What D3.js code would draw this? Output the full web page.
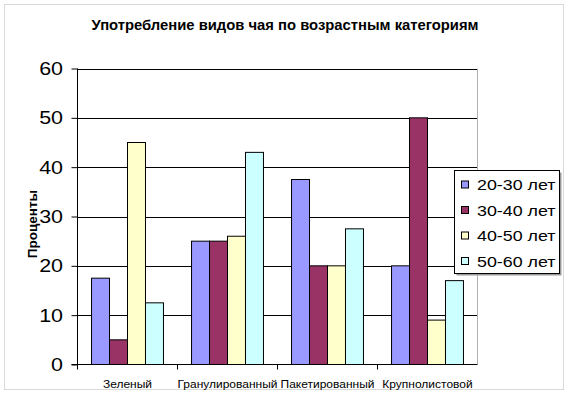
<!DOCTYPE html>
<html>
<head>
<meta charset="utf-8">
<script src="https://cdn.jsdelivr.net/npm/d3@7/dist/d3.min.js"></script>
<style>
  body { margin: 0; background: #fff; }
  svg { display: block; font-family: "Liberation Sans", Arial, sans-serif; }
</style>
</head>
<body>
<div id="chart"></div>
<script>
// chart data
let categories = ['Зеленый', 'Гранулированный', 'Пакетированный', 'Крупнолистовой']
let seriesNames = ['20-30 лет', '30-40 лет', '40-50 лет', '50-60 лет']
let seriesColors = ['#9999ff', '#993366', '#ffffcc', '#ccffff']
let v2030 = [17.5, 25, 37.5, 20]
let v3040 = [5, 25, 20, 50]
let v4050 = [45, 26, 20, 9]
let v5060 = [12.5, 43, 27.5, 17]
let yTicks = [0, 10, 20, 30, 40, 50, 60]
let seriesValues = [v2030, v3040, v4050, v5060]

let W = 570, H = 397
// plot area edges
let pLeft = 77.5, pRight = 477.5, pTop = 68.5, pBottom = 364.5
// the source picture is a bit stretched sideways
let sxTick = 1.13, sxCat = 1.2, sxLeg = 1.19

let svg = d3.select('#chart')
  .append('svg')
  .attr('width', W)
  .attr('height', H)

// outer chart frame
svg.append('rect')
  .attr('x', 4.5).attr('y', 4.5)
  .attr('width', 559).attr('height', 385)
  .attr('fill', '#fff')
  .attr('stroke', '#d9d9d9')

svg.append('text')
  .attr('x', 285).attr('y', 30)
  .attr('text-anchor', 'middle')
  .attr('font-weight', 'bold')
  .attr('font-size', 14.8)
  .text('Употребление видов чая по возрастным категориям')

let y = d3.scaleLinear().domain([0, 60]).range([pBottom, pTop])
let x0 = d3.scaleBand().domain(categories).range([pLeft, pRight])
let x1 = d3.scaleBand().domain(seriesNames).range([0, x0.bandwidth()]).paddingOuter(0.78)

// gridlines
svg.append('g')
  .selectAll('line')
  .data(yTicks.filter(d => d > 0))
  .join('line')
  .attr('x1', pLeft).attr('x2', pRight)
  .attr('y1', d => Math.round(y(d)) + 0.5)
  .attr('y2', d => Math.round(y(d)) + 0.5)
  .attr('stroke', '#000')

// plot area right edge
svg.append('line')
  .attr('x1', pRight).attr('x2', pRight)
  .attr('y1', pTop).attr('y2', pBottom)
  .attr('stroke', '#b0b0b0')

// bars
let groups = svg.append('g')
  .selectAll('g')
  .data(categories)
  .join('g')
  .attr('transform', d => 'translate(' + x0(d) + ',0)')

groups.selectAll('rect')
  .data((c, i) => seriesNames.map((s, j) => ({ s: s, v: seriesValues[j][i], c: seriesColors[j] })))
  .join('rect')
  .attr('x', d => x1(d.s))
  .attr('y', d => y(d.v))
  .attr('width', x1.bandwidth())
  .attr('height', d => y(0) - y(d.v))
  .attr('fill', d => d.c)
  .attr('stroke', '#000')
  .attr('stroke-width', 1)

// y axis
let yAxis = d3.axisLeft(y).tickValues(yTicks).tickSize(6).tickPadding(9)
let gy = svg.append('g')
  .attr('transform', 'translate(' + pLeft + ',0)')
  .call(yAxis)
gy.select('.domain').attr('stroke', '#000').attr('d', 'M0,' + pTop + 'V' + pBottom)
gy.selectAll('.tick line').attr('stroke', '#000')
gy.selectAll('.tick text')
  .attr('font-size', 19)
  .attr('font-family', '"Liberation Sans", Arial, sans-serif')
  .attr('fill', '#000')
  .attr('x', -14.5 / sxTick)
  .attr('transform', 'scale(' + sxTick + ',1)')

// x axis
let xAxis = d3.axisBottom(x0).tickSize(0).tickPadding(16)
let gx = svg.append('g')
  .attr('transform', 'translate(0,' + pBottom + ')')
  .call(xAxis)
gx.select('.domain').attr('stroke', '#000').attr('d', 'M' + (pLeft - 6) + ',0H' + pRight)
gx.selectAll('.tick text')
  .attr('font-size', 10)
  .attr('font-family', '"Liberation Sans", Arial, sans-serif')
  .attr('fill', '#000')
  .attr('transform', 'scale(' + sxCat + ',1)')
// category separators
gx.append('g')
  .selectAll('line')
  .data(categories)
  .join('line')
  .attr('x1', d => x0(d)).attr('x2', d => x0(d))
  .attr('y1', 0).attr('y2', 5)
  .attr('stroke', '#000')

// y title
svg.append('text')
  .attr('transform', 'translate(36.5,224) rotate(-90)')
  .attr('text-anchor', 'middle')
  .attr('font-weight', 'bold')
  .attr('font-size', 13.5)
  .text('Проценты')

// legend
let lg = svg.append('g').attr('transform', 'translate(454.5,170.5)')
lg.append('rect')
  .attr('x', 2).attr('y', 2)
  .attr('width', 105).attr('height', 103)
  .attr('fill', '#9a9a9a')
lg.append('rect')
  .attr('width', 105).attr('height', 103)
  .attr('fill', '#fff')
  .attr('stroke', '#000')

let items = lg.selectAll('g.item')
  .data(seriesNames)
  .join('g')
  .attr('class', 'item')
  .attr('transform', (d, i) => 'translate(0,' + (14.5 + i * 25.5) + ')')
items.append('rect')
  .attr('x', 7).attr('y', -4)
  .attr('width', 7).attr('height', 7)
  .attr('fill', (d, i) => seriesColors[i])
  .attr('stroke', '#000')
items.append('text')
  .attr('x', 22.5 / sxLeg).attr('y', 0)
  .attr('dy', '0.36em')
  .attr('font-size', 15)
  .attr('transform', 'scale(' + sxLeg + ',1)')
  .text(d => d)
</script>
</body>
</html>
